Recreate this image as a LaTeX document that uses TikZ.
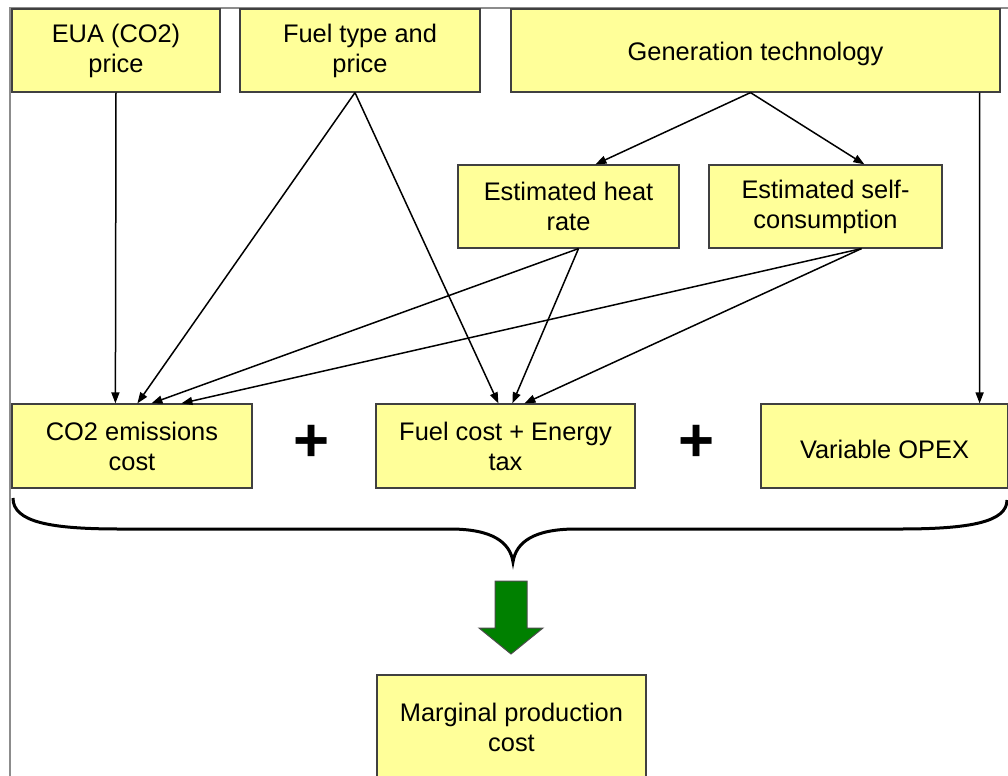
\documentclass[tikz,border=0pt]{standalone}
\usepackage{fontspec}
\setmainfont{Liberation Sans}
\usetikzlibrary{arrows.meta}
\definecolor{boxfill}{RGB}{255,255,153}
\definecolor{arrowgreen}{RGB}{0,128,0}
\begin{document}
\begin{tikzpicture}[x=1bp,y=-1bp,
  box/.style={draw=black!75, line width=1.2bp, fill=boxfill, inner sep=0pt, align=center,
    font=\fontsize{25.5}{30}\selectfont, execute at begin node={\rule{0pt}{25bp}}},
  arr/.style={-{Triangle[length=11bp,width=8bp]}, line width=1.5bp, black},
  plus/.style={font=\bfseries\fontsize{62}{62}\selectfont, inner sep=0pt},
  brace/.style={line width=3bp, black},
  frame/.style={draw=black!45, line width=1.2bp}]
\useasboundingbox (0,0) rectangle (1008,776);
\draw[frame] (10,776) -- (10,8) -- (1008,8);
% top row
\node[box, minimum width=208bp, minimum height=83bp] (eua) at (116,50.5) {EUA (CO2)\\price};
\node[box, minimum width=240bp, minimum height=83bp] (fuel) at (360,50.5) {Fuel type and\\price};
\node[box, minimum width=489bp, minimum height=83bp] (gen) at (755.5,50.5) {Generation technology};
% middle row
\node[box, minimum width=221bp, minimum height=83bp] (heat) at (568.5,206.5) {Estimated heat\\rate};
\node[box, minimum width=233bp, minimum height=83bp] (self) at (825.5,206.5) {Estimated self-\\consumption};
% bottom row
\node[box, minimum width=240bp, minimum height=84bp] (co2) at (132,446) {CO2 emissions\\cost};
\node[box, minimum width=259bp, minimum height=84bp] (fc) at (505.5,446) {Fuel cost + Energy\\tax};
\node[box, minimum width=247bp, minimum height=84bp] (opex) at (884.5,446) {Variable OPEX};
\node[plus] (p1) at (312,443) {+};
\node[plus] (p2) at (697,443) {+};
% result
\node[box, minimum width=269bp, minimum height=104bp] (mpc) at (511.5,727) {Marginal production\\cost};
% connectors
\draw[arr] (eua.south) -- ([xshift=104bp]co2.north west);
\draw[arr] ([xshift=-5bp]fuel.south) -- ([xshift=126bp]co2.north west);
\draw[arr] ([xshift=-5bp]fuel.south) -- ([xshift=123bp]fc.north west);
\draw[arr] ([xshift=-5bp]gen.south) -- ([xshift=138bp]heat.north west);
\draw[arr] ([xshift=-5bp]gen.south) -- ([xshift=156bp]self.north west);
\draw[arr] ([xshift=-21bp]gen.south east) -- ([xshift=-29bp]opex.north east);
\draw[arr] ([xshift=10bp]heat.south) -- ([xshift=140bp]co2.north west);
\draw[arr] ([xshift=10bp]heat.south) -- ([xshift=137bp]fc.north west);
\draw[arr] ([xshift=36bp]self.south) -- ([xshift=170bp]co2.north west);
\draw[arr] ([xshift=36bp]self.south) -- ([xshift=149bp]fc.north west);
% brace
\coordinate (bl) at (13,498);
\coordinate (bt) at (513,562);
\coordinate (br) at (1007,500);
\draw[brace] (bl) .. controls (13,522) and (50,529) .. (120,529) -- (450,529)
  .. controls (492,529) and (510,542) .. (bt)
  .. controls (516,542) and (534,529) .. (576,529) -- (900,529)
  .. controls (970,529) and (1007,522) .. (br);
% green arrow
\draw[draw=black!70, line width=1bp, fill=arrowgreen]
  (495,581) -- (527,581) -- (527,628) -- (543,628) -- (511,654) -- (479,628) -- (495,628) -- cycle;
\end{tikzpicture}
\end{document}
